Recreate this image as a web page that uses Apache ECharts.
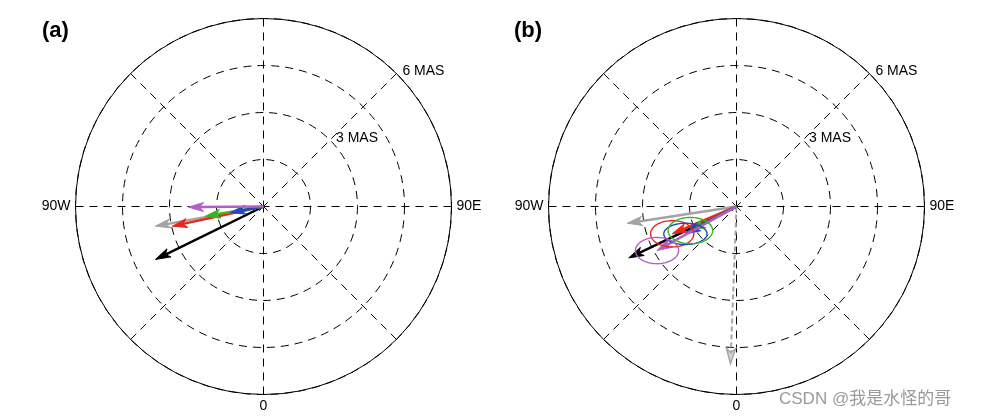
<!DOCTYPE html>
<html>
<head>
<meta charset="utf-8">
<script src="https://cdn.jsdelivr.net/npm/echarts@6/dist/echarts.min.js"></script>
<style>
  html, body { margin: 0; padding: 0; background: #fff; }
  #chart { width: 984px; height: 420px; }
</style>
</head>
<body>
<div id="chart"></div>
<script>
// amplitudes in MAS, phases in degrees (east positive, 0 at bottom)
var seriesNames = ['black', 'gray', 'red', 'green', 'blue', 'purple'];
var palette = {
  black: '#000000', gray: '#a3a3a3', red: '#e8261c',
  green: '#3cb223', blue: '#2547b9', purple: '#b25fc6'
};

var ampA = [3.84, 3.51, 2.98, 1.88, 1.07, 2.39];
var phaseA = [-63.9, -79.7, -77.8, -80.5, -79.7, -89.5];

var ampB = [3.81, 3.53, 2.23, 1.66, 1.85, 2.90];
var phaseB = [-64.5, -81.3, -67.0, -62.4, -61.8, -61.0];

// error ellipses in panel b (semi axes in MAS)
var ellipseNames = ['red', 'blue', 'green', 'purple'];
var ellipseRx = [0.69, 0.69, 0.71, 0.69];
var ellipseRy = [0.42, 0.34, 0.42, 0.42];

// dashed gray arrow in panel b
var dashAmp = [5.02];
var dashPhase = [-2.2];

var ringLabels = [3, 6];
var ringLabelAngle = 135;

function toAngle(deg) { return deg < 0 ? deg + 360 : deg; }

var chart = echarts.init(document.getElementById('chart'));

function arrowShape(c, p, color, dashed) {
  var dx = p[0] - c[0], dy = p[1] - c[1];
  var len = Math.sqrt(dx * dx + dy * dy);
  var ux = dx / len, uy = dy / len;
  var nx = -uy, ny = ux;
  var L = 15, W = 4.5;
  var head = [
    [p[0], p[1]],
    [p[0] - ux * L + nx * W, p[1] - uy * L + ny * W],
    [p[0] - ux * (L - 4), p[1] - uy * (L - 4)],
    [p[0] - ux * L - nx * W, p[1] - uy * L - ny * W]
  ];
  return {
    type: 'group',
    children: [
      {
        type: 'line',
        shape: { x1: c[0], y1: c[1], x2: p[0] - ux * (L - 5), y2: p[1] - uy * (L - 5) },
        style: { stroke: color, lineWidth: dashed ? 2 : 2.5, lineDash: dashed ? [5, 3] : null }
      },
      {
        type: 'polygon',
        shape: { points: head },
        style: dashed ? { fill: '#d4d4d4', stroke: color, lineWidth: 1.5 } : { fill: color, stroke: color, lineWidth: 1 }
      }
    ]
  };
}

function arrowRender(names, dashed) {
  return function (params, api) {
    var r = api.value(0), a = api.value(1);
    var c = api.coord([0, a]);
    var p = api.coord([r, a]);
    var col = dashed ? '#a6a6a6' : palette[names[params.dataIndex]];
    return arrowShape(c, p, col, dashed);
  };
}

function ellipseRender(params, api) {
  var r = api.value(0), a = api.value(1);
  var p = api.coord([r, a]);
  var c0 = api.coord([0, 0]);
  var c1 = api.coord([1, 0]);
  var s = Math.sqrt(Math.pow(c1[0] - c0[0], 2) + Math.pow(c1[1] - c0[1], 2));
  var rx = api.value(2) * s, ry = api.value(3) * s;
  var pts = [];
  for (var i = 0; i < 72; i++) {
    var t = i / 72 * Math.PI * 2;
    pts.push([p[0] + rx * Math.cos(t), p[1] + ry * Math.sin(t)]);
  }
  return {
    type: 'polygon',
    shape: { points: pts },
    style: { fill: 'none', stroke: palette[ellipseNames[params.dataIndex]], lineWidth: 1.4 }
  };
}

function ringLabelRender(params, api) {
  var p = api.coord([api.value(0), api.value(1)]);
  return {
    type: 'text',
    style: {
      x: p[0] + 6, y: p[1] - 2, text: api.value(0) + ' MAS',
      fill: '#000', font: '14px "Liberation Sans", Arial, sans-serif',
      verticalAlign: 'middle', align: 'left'
    }
  };
}

function polarAxes(i) {
  return {
    radiusAxis: {
      polarIndex: i, min: 0, max: 6, interval: 1.5,
      axisLine: { show: false }, axisTick: { show: false }, axisLabel: { show: false },
      splitLine: { show: true, lineStyle: { color: '#000', width: 1, type: [8, 6] } }
    },
    angleAxis: {
      polarIndex: i, type: 'value', min: 0, max: 360, interval: 45,
      startAngle: 270, clockwise: false,
      axisLine: { show: true, lineStyle: { color: '#000', width: 1 } },
      axisTick: { show: false },
      axisLabel: {
        show: true, margin: 5, color: '#000', fontSize: 14,
        fontFamily: '"Liberation Sans", Arial, sans-serif',
        formatter: function (v) {
          if (v === 0) return '0';
          if (v === 90) return '90E';
          if (v === 270) return '90W';
          return '';
        }
      },
      splitLine: { show: true, lineStyle: { color: '#000', width: 1, type: [8, 6] } }
    }
  };
}

var pa = polarAxes(0), pb = polarAxes(1);

function pairs(amp, phase) {
  return amp.map(function (r, i) { return [r, toAngle(phase[i])]; });
}

var ellipseData = ellipseNames.map(function (n, i) {
  var k = seriesNames.indexOf(n);
  return [ampB[k], toAngle(phaseB[k]), ellipseRx[i], ellipseRy[i]];
});

var ringData = ringLabels.map(function (v) { return [v, ringLabelAngle]; });

chart.setOption({
  animation: false,
  polar: [
    { center: [263.5, 206.5], radius: 188 },
    { center: [736.5, 206.5], radius: 188 }
  ],
  radiusAxis: [pa.radiusAxis, pb.radiusAxis],
  angleAxis: [pa.angleAxis, pb.angleAxis],
  graphic: [
    { type: 'text', left: 42, top: 20, style: { text: '(a)', fill: '#000', font: 'bold 22px "Liberation Sans", Arial, sans-serif' } },
    { type: 'text', left: 514, top: 20, style: { text: '(b)', fill: '#000', font: 'bold 22px "Liberation Sans", Arial, sans-serif' } },
    { type: 'text', left: 779, top: 391, style: { text: 'CSDN @我是水怪的哥', fill: '#9a9a9a', font: '17px "Liberation Sans", "Noto Sans CJK SC", sans-serif' } }
  ],
  series: [
    { type: 'custom', coordinateSystem: 'polar', polarIndex: 0, encode: { radius: 0, angle: 1 },
      data: ringData, renderItem: ringLabelRender, silent: true },
    { type: 'custom', coordinateSystem: 'polar', polarIndex: 1, encode: { radius: 0, angle: 1 },
      data: ringData, renderItem: ringLabelRender, silent: true },
    { type: 'custom', coordinateSystem: 'polar', polarIndex: 0, encode: { radius: 0, angle: 1 },
      data: pairs(ampA, phaseA), renderItem: arrowRender(seriesNames, false), silent: true },
    { type: 'custom', coordinateSystem: 'polar', polarIndex: 1, encode: { radius: 0, angle: 1 },
      data: pairs(dashAmp, dashPhase), renderItem: arrowRender(null, true), silent: true },
    { type: 'custom', coordinateSystem: 'polar', polarIndex: 1, encode: { radius: 0, angle: 1 },
      data: pairs(ampB, phaseB), renderItem: arrowRender(seriesNames, false), silent: true },
    { type: 'custom', coordinateSystem: 'polar', polarIndex: 1, encode: { radius: 0, angle: 1 },
      data: ellipseData, renderItem: ellipseRender, silent: true }
  ]
});
</script>
</body>
</html>
